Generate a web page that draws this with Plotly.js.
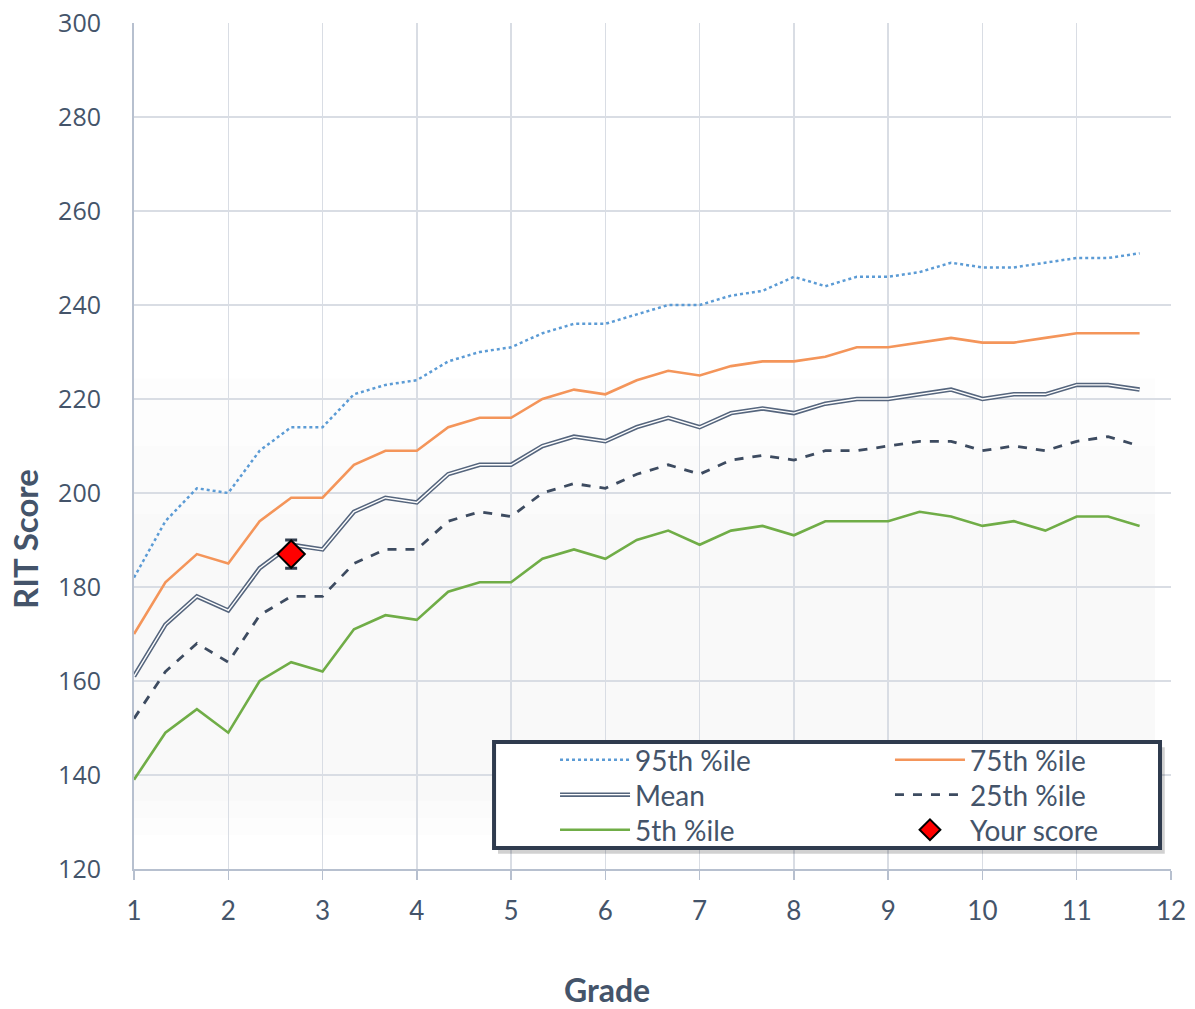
<!DOCTYPE html>
<html>
<head>
<meta charset="utf-8">
<script src="https://cdn.plot.ly/plotly-3.0.1.min.js"></script>
<style>html,body{margin:0;padding:0;background:#fff;}#chart{width:1195px;height:1009px;}</style>
</head>
<body>
<div id="chart"></div>
<script>
var grades = [1, 1.333, 1.667, 2, 2.333, 2.667, 3, 3.333, 3.667, 4, 4.333, 4.667, 5, 5.333, 5.667, 6, 6.333, 6.667, 7, 7.333, 7.667, 8, 8.333, 8.667, 9, 9.333, 9.667, 10, 10.333, 10.667, 11, 11.333, 11.667];
var p95 = [182, 194, 201, 200, 209, 214, 214, 221, 223, 224, 228, 230, 231, 234, 236, 236, 238, 240, 240, 242, 243, 246, 244, 246, 246, 247, 249, 248, 248, 249, 250, 250, 251];
var p75 = [170, 181, 187, 185, 194, 199, 199, 206, 209, 209, 214, 216, 216, 220, 222, 221, 224, 226, 225, 227, 228, 228, 229, 231, 231, 232, 233, 232, 232, 233, 234, 234, 234];
var meanScore = [161, 172, 178, 175, 184, 189, 188, 196, 199, 198, 204, 206, 206, 210, 212, 211, 214, 216, 214, 217, 218, 217, 219, 220, 220, 221, 222, 220, 221, 221, 223, 223, 222];
var p25 = [152, 162, 168, 164, 174, 178, 178, 185, 188, 188, 194, 196, 195, 200, 202, 201, 204, 206, 204, 207, 208, 207, 209, 209, 210, 211, 211, 209, 210, 209, 211, 212, 210];
var p5 = [139, 149, 154, 149, 160, 164, 162, 171, 174, 173, 179, 181, 181, 186, 188, 186, 190, 192, 189, 192, 193, 191, 194, 194, 194, 196, 195, 193, 194, 192, 195, 195, 193];
var yourGrade = [2.667];
var yourScore = [187];
var yourError = [3];
var xTicks = [1, 2, 3, 4, 5, 6, 7, 8, 9, 10, 11, 12];
var yTicks = [120, 140, 160, 180, 200, 220, 240, 260, 280, 300];

var textColor = '#44546a';
var lbl = 'Lato, "Open Sans", sans-serif';

var traces = [
  {x: grades, y: p95, name: '95th %ile', mode: 'lines', legend: 'legend',
   line: {color: '#5b9bd5', width: 2.5, dash: 'dot'}},
  {x: grades, y: meanScore, name: 'Mean', mode: 'lines', legend: 'legend2',
   line: {color: '#55657d', width: 4.5}},
  {x: grades, y: meanScore, name: '', mode: 'lines', legend: 'legend7',
   line: {color: '#ffffff', width: 1.4}},
  {x: grades, y: p5, name: '5th %ile', mode: 'lines', legend: 'legend3',
   line: {color: '#70ad47', width: 2.6}},
  {x: grades, y: p75, name: '75th %ile', mode: 'lines', legend: 'legend4',
   line: {color: '#f4955a', width: 2.6}},
  {x: grades, y: p25, name: '25th %ile', mode: 'lines', legend: 'legend5',
   line: {color: '#3d4b60', width: 2.8, dash: 'dash'}},
  {x: yourGrade, y: yourScore, name: 'Your score', mode: 'markers', legend: 'legend6',
   marker: {symbol: 'diamond', size: 21, color: '#ff0000', line: {color: '#000000', width: 2}},
   error_y: {type: 'data', array: yourError, visible: true, color: '#333f50', thickness: 3, width: 6}}
];

function leg(x, y) {
  return {
    orientation: 'v', bgcolor: 'rgba(0,0,0,0)', borderwidth: 0,
    font: {family: lbl, size: 28, color: textColor},
    itemwidth: 70, xanchor: 'left', yanchor: 'middle', x: x, y: y, itemclick: false
  };
}
var col1 = 0.406, col2 = 0.729;
var row1 = 0.1288, row2 = 0.0875, row3 = 0.0461;

var layout = {
  width: 1195, height: 1009,
  margin: {l: 134, r: 24, t: 23, b: 140},
  paper_bgcolor: '#ffffff', plot_bgcolor: '#ffffff',
  showlegend: true,
  hovermode: false,
  legend: leg(col1, row1),
  legend2: leg(col1, row2),
  legend3: leg(col1, row3),
  legend4: leg(col2, row1),
  legend5: leg(col2, row2),
  legend6: leg(col2, row3),
  legend7: leg(col1, row2),
  xaxis: {
    range: [1, 12], tickvals: xTicks, ticktext: xTicks.map(String),
    showgrid: true, gridcolor: '#d9dde4', gridwidth: 1.5,
    showline: true, linecolor: '#b7c0cf', linewidth: 2,
    ticks: 'outside', ticklen: 9, tickwidth: 1.5, tickcolor: '#b7c0cf',
    tickfont: {family: lbl, size: 26, color: textColor},
    ticklabelstandoff: 9,
    zeroline: false
  },
  yaxis: {
    range: [120, 300], tickvals: yTicks, ticktext: yTicks.map(String),
    showgrid: true, gridcolor: '#d9dde4', gridwidth: 1.5,
    showline: true, linecolor: '#b7c0cf', linewidth: 2,
    ticks: '', tickfont: {family: '"Open Sans", sans-serif', size: 25, color: textColor},
    ticklabelstandoff: 26,
    zeroline: false
  },
  annotations: [
    {text: 'Grade', xref: 'paper', yref: 'paper', x: 0.4561, y: -0.143, xanchor: 'center', yanchor: 'middle',
     showarrow: false, font: {family: lbl, size: 32, color: textColor, weight: 'bold'}},
    {text: 'RIT Score', xref: 'paper', yref: 'paper', x: -0.1051, y: 0.390, xanchor: 'center', yanchor: 'middle',
     textangle: -90, showarrow: false, font: {family: lbl, size: 33, color: textColor, weight: 'bold'}}
  ],
  shapes: [
    {type: 'rect', xref: 'paper', yref: 'paper', x0: 0.0, x1: 0.985, y0: 0.04, y1: 0.58,
     fillcolor: 'rgba(0,0,0,0.007)', line: {width: 0}, layer: 'below'},
    {type: 'rect', xref: 'paper', yref: 'paper', x0: 0.0, x1: 0.985, y0: 0.06, y1: 0.50,
     fillcolor: 'rgba(0,0,0,0.007)', line: {width: 0}, layer: 'below'},
    {type: 'rect', xref: 'paper', yref: 'paper', x0: 0.0, x1: 0.985, y0: 0.08, y1: 0.42,
     fillcolor: 'rgba(0,0,0,0.006)', line: {width: 0}, layer: 'below'},
    {type: 'rect', xref: 'paper', yref: 'paper', x0: 0.351, x1: 0.994, y0: 0.018, y1: 0.144,
     fillcolor: 'rgba(0,0,0,0.18)', line: {width: 0}, layer: 'above'},
    {type: 'rect', xref: 'paper', yref: 'paper', x0: 0.3472, x1: 0.9894, y0: 0.0248, y1: 0.1501,
     fillcolor: '#ffffff', line: {color: '#2f3b4e', width: 4}, layer: 'above'}
  ]
};

Plotly.newPlot('chart', traces, layout, {displayModeBar: false, staticPlot: true});
</script>
</body>
</html>
